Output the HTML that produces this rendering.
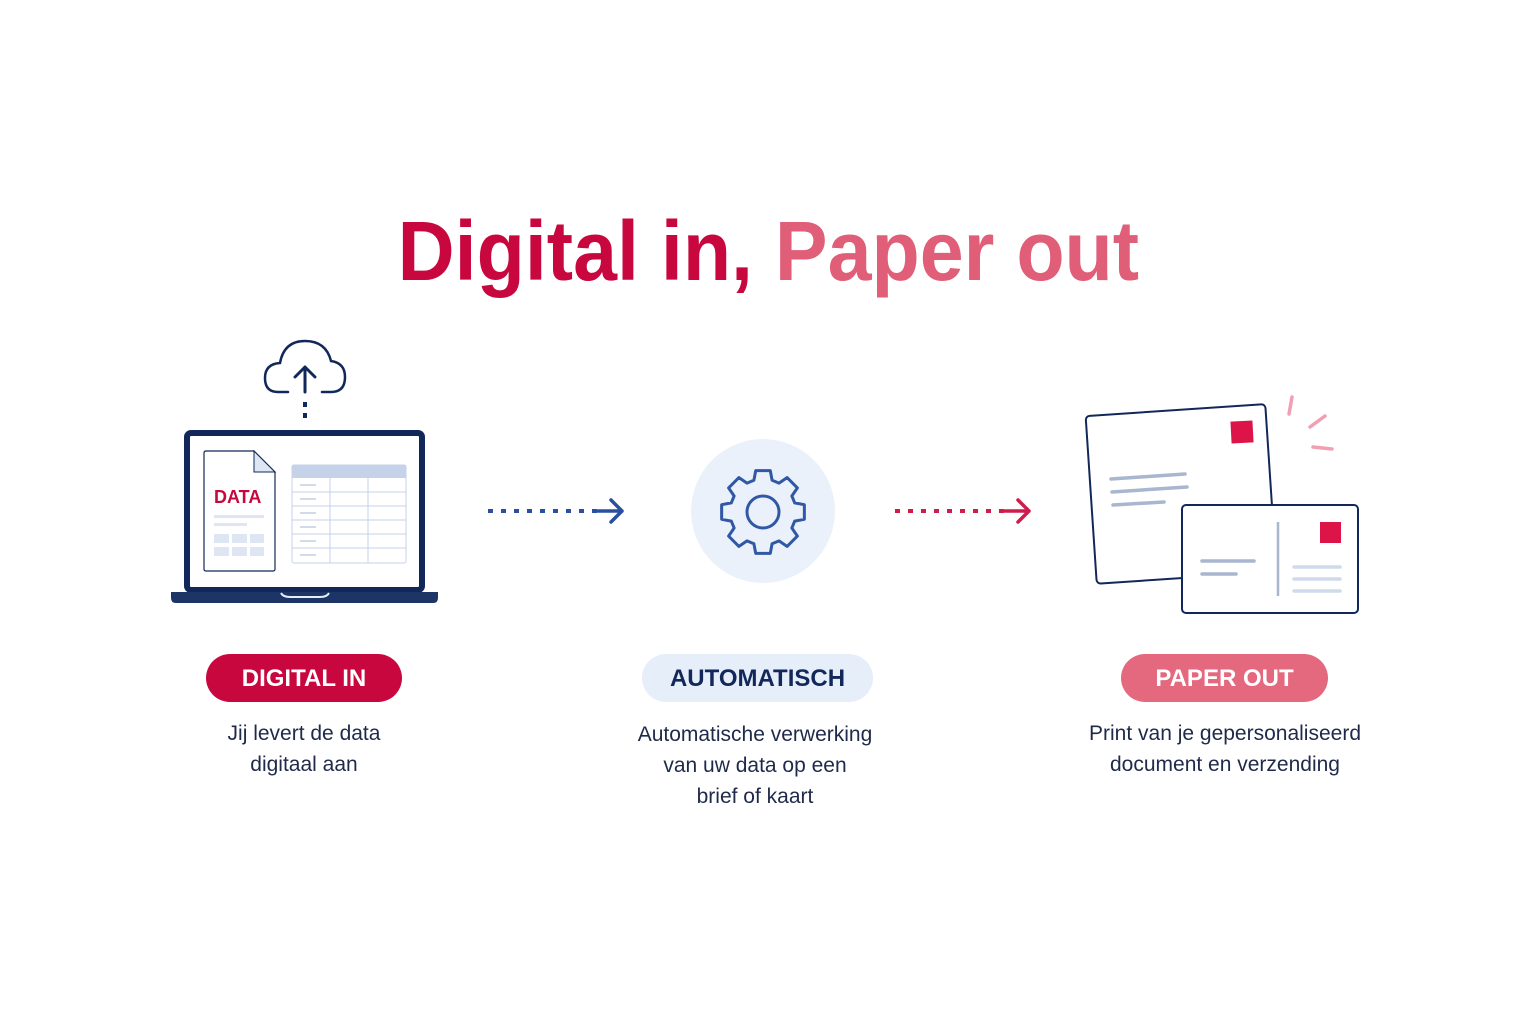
<!DOCTYPE html>
<html><head><meta charset="utf-8"><style>
body{margin:0;width:1536px;height:1024px;background:#fff;position:relative;overflow:hidden;font-family:"Liberation Sans",sans-serif}
.t{position:absolute;left:0;width:1536px;top:201px;text-align:center;font-weight:bold;font-size:84px;line-height:100px;white-space:nowrap}
.t span.w{display:inline-block;transform:scaleX(0.94);letter-spacing:0px}
.pill{position:absolute;height:48px;border-radius:24px;text-align:center;line-height:49px;font-weight:bold;font-size:24px}
.d{position:absolute;text-align:center;font-size:21px;line-height:31px;color:#1f2a4a;width:400px}
</style></head><body>
<div class="t"><span class="w"><span style="color:#c8073f">Digital in, </span><span style="color:#e05e78">Paper out</span></span></div>

<svg width="1536" height="1024" style="position:absolute;left:0;top:0">
<path d="M288 392 L278 392 Q265 392 265 378 Q265 364 280 363 Q284 341 305 341 Q326 341 331 361 Q345 363 345 377 Q345 392 331 392 L322 392" fill="none" stroke="#13285a" stroke-width="2.5" stroke-linecap="round"/>
<path d="M305 392 L305 367 M295 377 L305 367 L315 377" fill="none" stroke="#13285a" stroke-width="3" stroke-linecap="round" stroke-linejoin="round"/>
<path d="M305 402 L305 424" stroke="#13285a" stroke-width="4" stroke-dasharray="5 6"/>
<rect x="187" y="433" width="235" height="157" rx="4" fill="#fff" stroke="#13285a" stroke-width="6"/>
<path d="M171 592 L438 592 L438 598 Q438 603 433 603 L176 603 Q171 603 171 598Z" fill="#1d3466"/>
<path d="M281 593 Q283 597 290 597 L320 597 Q327 597 329 593" fill="none" stroke="#e6ecf6" stroke-width="2"/>
<path d="M206 451 L254 451 L275 472 L275 569 Q275 571 273 571 L206 571 Q204 571 204 569 L204 453 Q204 451 206 451Z" fill="#fff" stroke="#13285a" stroke-width="1.2"/>
<path d="M254 451 L254 472 L275 472Z" fill="#dfe6f3" stroke="#13285a" stroke-width="1"/>
<text x="214" y="503" font-family="Liberation Sans,sans-serif" font-weight="bold" font-size="18" fill="#c8073f">DATA</text>
<rect x="214" y="515" width="50" height="3" fill="#dfe6f3"/><rect x="214" y="523" width="33" height="3" fill="#dfe6f3"/>
<g fill="#dfe6f3"><rect x="214" y="534" width="15" height="9"/><rect x="232" y="534" width="15" height="9"/><rect x="250" y="534" width="14" height="9"/><rect x="214" y="547" width="15" height="9"/><rect x="232" y="547" width="15" height="9"/><rect x="250" y="547" width="14" height="9"/></g>
<rect x="292" y="465" width="114" height="98" rx="2" fill="#fff" stroke="#c5d2ea" stroke-width="1"/>
<rect x="292" y="465" width="114" height="13" fill="#c5d2ea"/>
<g stroke="#c5d2ea" stroke-width="1"><path d="M330 478V563M368 478V563M292 492H406M292 506H406M292 520H406M292 534H406M292 548H406"/></g>
<g stroke="#d3dbea" stroke-width="2"><path d="M300 485H316M300 499H316M300 513H316M300 527H316M300 541H316M300 555H316"/></g>
<path d="M488 511 L602 511" stroke="#2a4f9e" stroke-width="4" stroke-dasharray="5 8"/>
<path d="M598 511 L622 511 M611 500 L622 511 L611 522" fill="none" stroke="#2a4f9e" stroke-width="3.5" stroke-linecap="round" stroke-linejoin="round"/>
<circle cx="763" cy="511" r="72" fill="#ebf1fa"/>
<g transform="translate(763 512)"><polygon fill="none" stroke="#3058a4" stroke-width="3" stroke-linejoin="round" points="31.72,-9.10 41.36,-7.29 41.36,7.29 31.72,9.10 28.86,16.00 34.41,24.09 24.09,34.41 16.00,28.86 9.10,31.72 7.29,41.36 -7.29,41.36 -9.10,31.72 -16.00,28.86 -24.09,34.41 -34.41,24.09 -28.86,16.00 -31.72,9.10 -41.36,7.29 -41.36,-7.29 -31.72,-9.10 -28.86,-16.00 -34.41,-24.09 -24.09,-34.41 -16.00,-28.86 -9.10,-31.72 -7.29,-41.36 7.29,-41.36 9.10,-31.72 16.00,-28.86 24.09,-34.41 34.41,-24.09 28.86,-16.00"/><circle r="16" fill="none" stroke="#3058a4" stroke-width="3"/></g>
<path d="M895 511 L1012 511" stroke="#d01c4a" stroke-width="4" stroke-dasharray="5 8"/>
<path d="M1005 511 L1029 511 M1018 500 L1029 511 L1018 522" fill="none" stroke="#d01c4a" stroke-width="3.5" stroke-linecap="round" stroke-linejoin="round"/>
<g transform="rotate(-3.8 1180 494)"><rect x="1091" y="410" width="180" height="168" rx="4" fill="#fff" stroke="#13285a" stroke-width="2"/></g>
<rect x="1231" y="421" width="22" height="22" fill="#dc1447" transform="rotate(-3 1242 432)"/>
<g stroke="#a9b6cf" stroke-width="3.5" stroke-linecap="round"><path d="M1111 479L1185 474M1112 492L1187 487M1113 505L1164 502"/></g>
<g stroke="#f0a0b2" stroke-width="3.5" stroke-linecap="round"><path d="M1292 397L1289 414M1325 416L1310 427M1313 447L1332 449"/></g>
<rect x="1182" y="505" width="176" height="108" rx="4" fill="#fff" stroke="#13285a" stroke-width="2"/>
<rect x="1320" y="522" width="21" height="21" fill="#dc1447"/>
<path d="M1278 522V596" stroke="#a9b6cf" stroke-width="2.5"/>
<g stroke="#a9b6cf" stroke-width="3.5" stroke-linecap="round"><path d="M1202 561H1254M1202 574H1236"/></g>
<g stroke="#cfdaeb" stroke-width="3.5" stroke-linecap="round"><path d="M1294 567H1340M1294 579H1340M1294 591H1340"/></g>
</svg>

<div class="pill" style="left:206px;top:654px;width:196px;background:#c8073f;color:#fff">DIGITAL IN</div>
<div class="pill" style="left:642px;top:654px;width:231px;background:#e6eefa;color:#13285a">AUTOMATISCH</div>
<div class="pill" style="left:1121px;top:654px;width:207px;background:#e4687e;color:#fff">PAPER OUT</div>

<div class="d" style="left:104px;top:718px">Jij levert de data<br>digitaal aan</div>
<div class="d" style="left:555px;top:719px">Automatische verwerking<br>van uw data op een<br>brief of kaart</div>
<div class="d" style="left:1025px;top:718px">Print van je gepersonaliseerd<br>document en verzending</div>
</body></html>
